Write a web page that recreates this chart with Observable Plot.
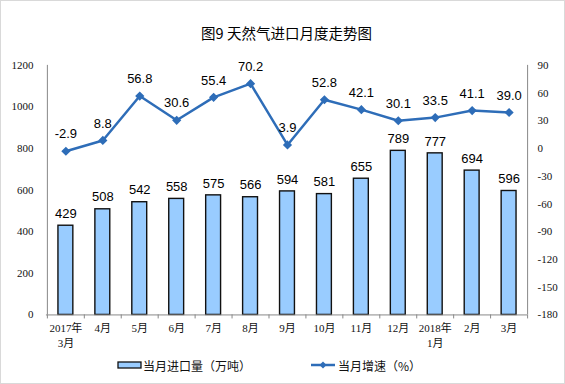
<!DOCTYPE html>
<html><head><meta charset="utf-8">
<script src="https://cdn.jsdelivr.net/npm/d3@7"></script>
<script src="https://cdn.jsdelivr.net/npm/@observablehq/plot@0.6"></script>
<style>
body{margin:0;background:#fff;}
#wrap{position:relative;width:565px;height:384px;box-sizing:border-box;border:1px solid #d9d9d9;overflow:hidden;font-family:"Liberation Serif","Noto Sans CJK SC",serif;}
#title{position:absolute;left:0;top:21px;width:565px;text-align:center;font:normal 14.5px "Noto Sans CJK SC",sans-serif;color:#000;padding-left:6px;box-sizing:border-box;}
#chart{position:absolute;left:-1px;top:-1px;}
#legend{position:absolute;top:354px;left:0;width:565px;font:12px "Noto Sans CJK SC",sans-serif;color:#111;}
.li{position:absolute;display:flex;align-items:center;}
</style></head>
<body><div id="wrap"><div id="title"></div><div id="chart"></div><div id="legend"></div></div>
<script>
const titleText = "图9  天然气进口月度走势图";
const categories = ["2017年\n3月","4月","5月","6月","7月","8月","9月","10月","11月","12月","2018年\n1月","2月","3月"];
const imports = [429,508,542,558,575,566,594,581,655,789,777,694,596];
const growth = [-2.9,8.8,56.8,30.6,55.4,70.2,3.9,52.8,42.1,30.1,33.5,41.1,39.0];
const leftTicks = [0,200,400,600,800,1000,1200];
const rightTicks = [-180,-150,-120,-90,-60,-30,0,30,60,90];
const seriesNames = ["当月进口量（万吨）","当月增速（%）"];

const barFill = "#99CCFF", barStroke = "#111", lineColor = "#2E6DB8";
const L0 = 0, L1 = 1200, R0 = -180, R1 = 90;
const toLeft = g => (g - R0) * (L1 - L0) / (R1 - R0) + L0;
const toRight = v => (v - L0) * (R1 - R0) / (L1 - L0) + R0;

const rows = categories.map((c,i)=>({c, v: imports[i], g: growth[i], gy: toLeft(growth[i])}));
const W = 565, H = 384, mL = 46, mR = 37, mT = 65, mB = 69;
const bw = (W - mL - mR) / categories.length;
const pxToData = (L1 - L0) / (H - mT - mB);
const fontNum = "Liberation Sans, Arial, sans-serif";

const plot = Plot.plot({
  width: W, height: H,
  marginLeft: mL, marginRight: mR, marginTop: mT, marginBottom: mB,
  style: {fontFamily: '"Liberation Serif","Noto Sans CJK SC",serif', fontSize: "11px", color: "#111", background: "transparent"},
  x: {type: "band", domain: categories, padding: 0, label: null},
  y: {domain: [L0, L1], label: null},
  marks: [
    Plot.barY(rows, {x: "c", y: "v", fill: barFill, stroke: barStroke, strokeWidth: 1.4, insetLeft: (bw-15)/2, insetRight: (bw-15)/2}),
    Plot.text(rows, {x: "c", y: "v", text: d => String(d.v), dy: -12, fontSize: 13, fontFamily: fontNum, fill: "#000"}),
    Plot.ruleY([0], {stroke: "#888", strokeWidth: 1}),
    Plot.ruleX([categories[0]], {x: d=>d, dx: -bw/2, y1: L0, y2: L1, stroke: "#888"}),
    Plot.ruleX([categories[categories.length-1]], {x: d=>d, dx: bw/2, y1: L0, y2: L1, stroke: "#888"}),
    Plot.ruleX(categories, {x: d=>d, dx: -bw/2, y1: 0, y2: -4*pxToData, stroke: "#888"}),
    Plot.ruleX([categories[categories.length-1]], {x: d=>d, dx: bw/2, y1: 0, y2: -4*pxToData, stroke: "#888"}),
    Plot.axisY({anchor: "left", ticks: leftTicks, tickSize: 0, tickPadding: 13, tickFormat: d => String(d), fontSize: 11, label: null}),
    Plot.axisY({anchor: "right", ticks: rightTicks.map(toLeft), tickSize: 0, tickPadding: 10, tickFormat: d => String(Math.round(toRight(d))), fontSize: 11, label: null}),
    Plot.axisX({tickSize: 0, tickPadding: 6, fontSize: 11, lineHeight: 1.4, label: null}),
    Plot.line(rows, {x: "c", y: "gy", stroke: lineColor, strokeWidth: 2.5}),
    Plot.dot(rows, {x: "c", y: "gy", symbol: "diamond2", fill: lineColor, stroke: lineColor, r: 3.2}),
    Plot.text(rows, {x: "c", y: "gy", text: d => d.g.toFixed(1), dy: -17, fontSize: 13, fontFamily: fontNum, fill: "#000"})
  ]
});
document.getElementById("chart").appendChild(plot);
document.getElementById("title").textContent = titleText;

const lg = document.getElementById("legend");
lg.innerHTML = `
<div class="li" style="left:116px;top:0"><svg width="26" height="20"><rect x="1" y="7" width="23" height="6" fill="${barFill}" stroke="${barStroke}" stroke-width="1.3"/></svg><span>${seriesNames[0]}</span></div>
<div class="li" style="left:309px;top:0"><svg width="28" height="20"><line x1="1" y1="10" x2="25" y2="10" stroke="${lineColor}" stroke-width="2.5"/><path d="M13 6.5L16.5 10L13 13.5L9.5 10Z" fill="${lineColor}"/></svg><span>${seriesNames[1]}</span></div>`;
</script></body></html>
